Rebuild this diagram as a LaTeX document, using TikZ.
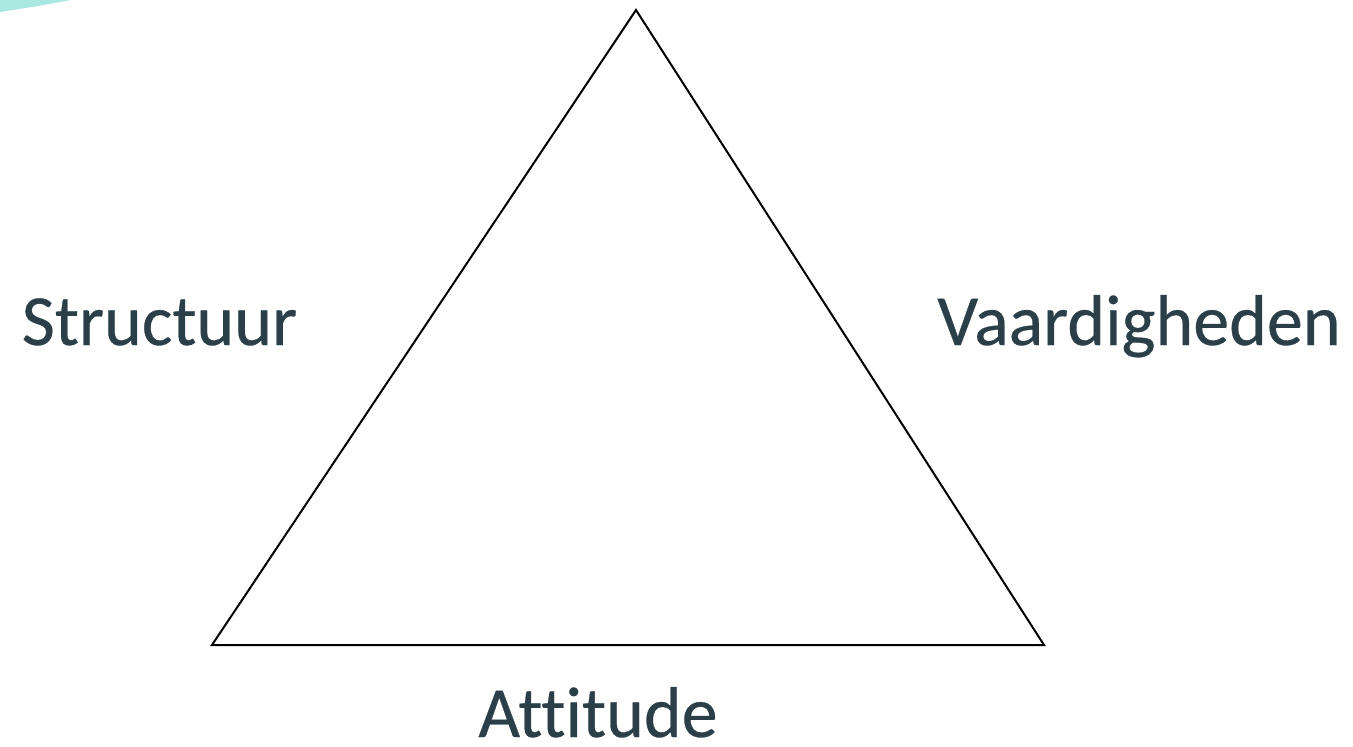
\documentclass[tikz,border=0pt]{standalone}
\usepackage{fontspec}
\setmainfont[Ligatures={NoCommon}, FakeBold=0.4]{Carlito}
\definecolor{tekst}{HTML}{2A3F48}
\definecolor{turkoois}{HTML}{A8E8E0}

\begin{document}
\begin{tikzpicture}[x=1pt, y=-1pt,
    woord/.style={text=tekst, font=\fontsize{72}{74}\selectfont, inner sep=0pt, anchor=base}]
  \useasboundingbox (0, 0) rectangle (1353, 747);
  \fill[turkoois] (0, 0) -- (71, 0) .. controls (45, 5) and (20, 9) .. (0, 12) -- cycle;

  \coordinate (top) at (636, 10);
  \coordinate (links) at (212, 645);
  \coordinate (rechts) at (1044, 645);
  \draw[line width=2pt, line join=miter] (top) -- (rechts) -- (links) -- cycle;

  \node[woord] (structuur) at (159.5, 345) {Structuur};
  \node[woord] (vaardigheden) at (1139, 345) {Vaardigheden};
  \node[woord] (attitude) at (598, 737) {Attitude};
\end{tikzpicture}
\end{document}
